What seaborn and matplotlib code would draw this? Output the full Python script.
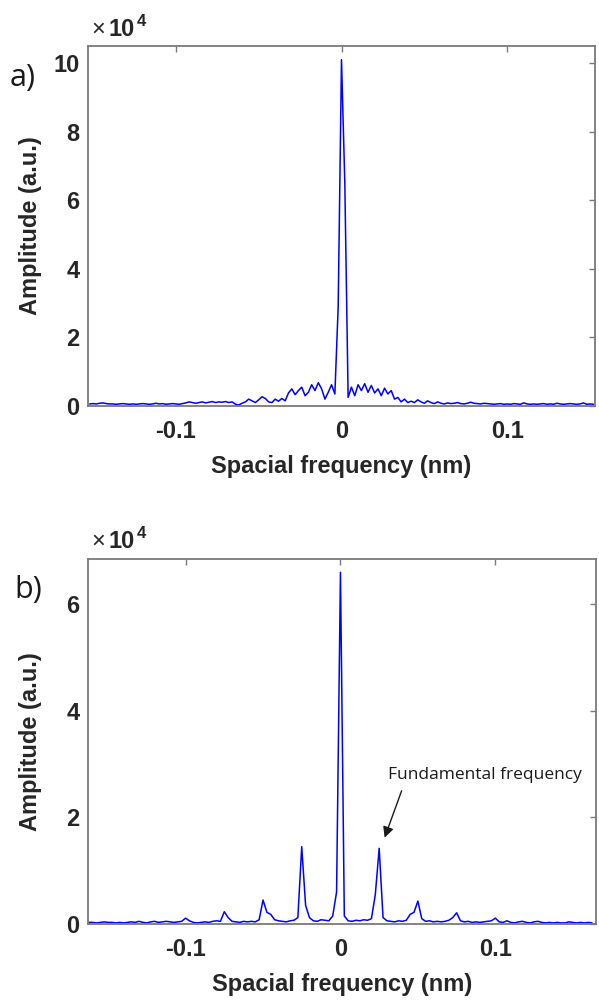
import numpy as np
import pandas as pd
import matplotlib
matplotlib.use("Agg")
import matplotlib.pyplot as plt
import seaborn as sns
from matplotlib.ticker import FuncFormatter

# ---------------- data (amplitude in units of 1e4) ----------------
freq_a_start, freq_a_stop = -0.152, 0.152
amp_a = [
    # -0.152 .. -0.100
    0.06, 0.07, 0.06, 0.08, 0.09, 0.07, 0.06, 0.06, 0.05, 0.06, 0.07, 0.06, 0.05, 0.06,
    0.05, 0.06, 0.07, 0.06, 0.05, 0.06, 0.08, 0.06, 0.07, 0.05, 0.06, 0.07, 0.06,
    # -0.098 .. -0.060
    0.05, 0.07, 0.09, 0.12, 0.10, 0.08, 0.10, 0.12, 0.09, 0.11, 0.13, 0.10, 0.12, 0.11,
    0.13, 0.10, 0.12, 0.05, 0.03, 0.08,
    # -0.058 .. -0.006
    0.12, 0.20, 0.15, 0.10, 0.18, 0.27, 0.22, 0.12, 0.10, 0.20, 0.14, 0.22, 0.15, 0.38,
    0.50, 0.33, 0.45, 0.55, 0.30, 0.40, 0.62, 0.45, 0.68, 0.50, 0.20, 0.40, 0.62,
    # -0.004 .. 0.002
    0.35, 2.9, 10.1, 6.5,
    # 0.004 .. 0.098
    0.25, 0.55, 0.30, 0.62, 0.45, 0.65, 0.40, 0.60, 0.38, 0.50,
    0.30, 0.52, 0.35, 0.45, 0.20, 0.25, 0.12, 0.20, 0.10, 0.14,
    0.10, 0.18, 0.12, 0.08, 0.15, 0.10, 0.07, 0.12, 0.08, 0.06,
    0.09, 0.07, 0.08, 0.10, 0.07, 0.06, 0.08, 0.11, 0.08, 0.07,
    0.06, 0.08, 0.07, 0.06, 0.05, 0.06, 0.07, 0.05,
    # 0.100 .. 0.152
    0.06, 0.05, 0.07, 0.06, 0.05, 0.09, 0.06, 0.05, 0.06, 0.05, 0.06, 0.07, 0.05, 0.06,
    0.05, 0.08, 0.06, 0.05, 0.06, 0.07, 0.06, 0.05, 0.06, 0.09, 0.05, 0.06, 0.05,
]

freq_b_start, freq_b_stop = -0.1625, 0.1625
amp_b = [
    # -0.1625 .. -0.1025
    0.03, 0.03, 0.02, 0.03, 0.04, 0.03, 0.03, 0.02, 0.03, 0.02, 0.03, 0.04, 0.03, 0.05,
    0.03, 0.02, 0.04, 0.05, 0.03, 0.04, 0.05, 0.04, 0.03, 0.04, 0.05,
    0.11,
    0.06, 0.03, 0.02, 0.03, 0.04, 0.03, 0.05, 0.06, 0.05,
    0.23,
    0.12, 0.05, 0.04, 0.03, 0.05, 0.04, 0.05, 0.04, 0.08,
    0.45,
    0.22, 0.18, 0.08, 0.06, 0.05, 0.04, 0.06, 0.07, 0.12,
    1.45,
    0.35, 0.12, 0.06, 0.05, 0.08, 0.07, 0.06, 0.15, 0.60,
    # 0
    6.6,
    0.15, 0.06, 0.05, 0.07, 0.06, 0.08, 0.07, 0.10, 0.55,
    1.42,
    0.12, 0.06, 0.05, 0.04, 0.06, 0.05, 0.07, 0.18, 0.22,
    0.43,
    0.10, 0.05, 0.06, 0.04, 0.05, 0.04, 0.05, 0.07, 0.12,
    0.21,
    0.06, 0.04, 0.05, 0.03, 0.04, 0.03, 0.04, 0.05, 0.06,
    0.11,
    0.04, 0.03, 0.06, 0.03, 0.02, 0.04, 0.05, 0.03, 0.02, 0.04, 0.05, 0.03, 0.02, 0.03,
    0.02, 0.03, 0.02, 0.02, 0.04, 0.03, 0.02, 0.03, 0.02, 0.03, 0.02,
]

x_ticks = [-0.1, 0, 0.1]
x_ticklabels = ["-0.1", "0", "0.1"]
y_ticks_a = [0, 2, 4, 6, 8, 10]
y_ticks_b = [0, 2, 4, 6]
xlabel = "Spacial frequency (nm)"
ylabel = "Amplitude (a.u.)"
annot_text = "Fundamental frequency"
annot_text_pos = (0.031, 2.8)     # (freq, amplitude 1e4)
arrow_tail = (0.0395, 2.5)
arrow_head = (0.0285, 1.62)

SCALE = 1e4
freq_a = np.linspace(freq_a_start, freq_a_stop, len(amp_a))
freq_b = np.linspace(freq_b_start, freq_b_stop, len(amp_b))
df_a = pd.DataFrame({"f": freq_a, "amp": np.array(amp_a) * SCALE})
df_b = pd.DataFrame({"f": freq_b, "amp": np.array(amp_b) * SCALE})

# ---------------- style ----------------
sns.set_style("white")
plt.rcParams["font.family"] = ["Liberation Sans", "DejaVu Sans"]
plt.rcParams["axes.unicode_minus"] = False

W, H = 599, 1006
fig = plt.figure(figsize=(W / 100, H / 100), dpi=100)

def fx(px):
    return px / W

def fy(py):
    return 1 - py / H

ax_a = fig.add_axes([fx(88), fy(406), fx(595) - fx(88), fy(46) - fy(406)])
ax_b = fig.add_axes([fx(88), fy(924), fx(596) - fx(88), fy(559) - fy(924)])

spine_col = "#7a7a7a"
text_col = "#262626"

def style(ax, df, xlim, ylim, yticks):
    sns.lineplot(data=df, x="f", y="amp", ax=ax, color="#0000ff", linewidth=1.1)
    ax.set_xlim(*xlim)
    ax.set_ylim(*ylim)
    ax.set_xticks(x_ticks)
    ax.set_xticklabels(x_ticklabels)
    ax.set_yticks([v * SCALE for v in yticks])
    ax.yaxis.set_major_formatter(FuncFormatter(lambda v, p: f"{v/SCALE:g}"))
    for s in ax.spines.values():
        s.set_color(spine_col)
        s.set_linewidth(1.3)
        s.set_visible(True)
    ax.tick_params(direction="in", length=4, width=1, color=spine_col,
                   top=True, right=True, labelsize=17, labelcolor=text_col, pad=6)
    ax.tick_params(axis="x", pad=10)
    for lab in ax.get_xticklabels() + ax.get_yticklabels():
        lab.set_fontweight("bold")
    ax.set_xlabel(xlabel, fontsize=17, fontweight="bold", color=text_col, labelpad=9)
    ax.set_ylabel(ylabel, fontsize=17, fontweight="bold", color=text_col)
    ax.yaxis.set_label_coords(-0.09, 0.5)

style(ax_a, df_a, (-0.153, 0.153), (0, 10.5 * SCALE), y_ticks_a)
style(ax_b, df_b, (-0.163, 0.165), (0, 6.85 * SCALE), y_ticks_b)

# exponent labels
for ytop in (36, 548):
    fig.text(fx(91), fy(ytop), "\u00d7", fontsize=17, color=text_col, ha="left", va="baseline")
    fig.text(fx(108), fy(ytop), "10", fontsize=17, fontweight="bold", color=text_col,
             ha="left", va="baseline")
    fig.text(fx(137), fy(ytop - 10), "4", fontsize=12, fontweight="bold", color=text_col,
             ha="left", va="baseline")

# panel labels
fig.text(fx(10), fy(86), "a)", fontsize=22, color="#1a1a1a", ha="left", va="baseline",
         family=["Open Sans", "DejaVu Sans"])
fig.text(fx(14), fy(598), "b)", fontsize=22, color="#1a1a1a", ha="left", va="baseline",
         family=["Open Sans", "DejaVu Sans"])

# annotation
ax_b.text(annot_text_pos[0], annot_text_pos[1] * SCALE, annot_text,
          ha="left", va="center", fontsize=12.5, color="#1a1a1a",
          family=["Open Sans", "DejaVu Sans"])
ax_b.annotate("", xy=(arrow_head[0], arrow_head[1] * SCALE),
              xytext=(arrow_tail[0], arrow_tail[1] * SCALE),
              arrowprops=dict(arrowstyle="-|>", color="#1a1a1a", lw=1.0,
                              mutation_scale=16, shrinkA=0, shrinkB=0))

fig.savefig("out.png", dpi=100)
